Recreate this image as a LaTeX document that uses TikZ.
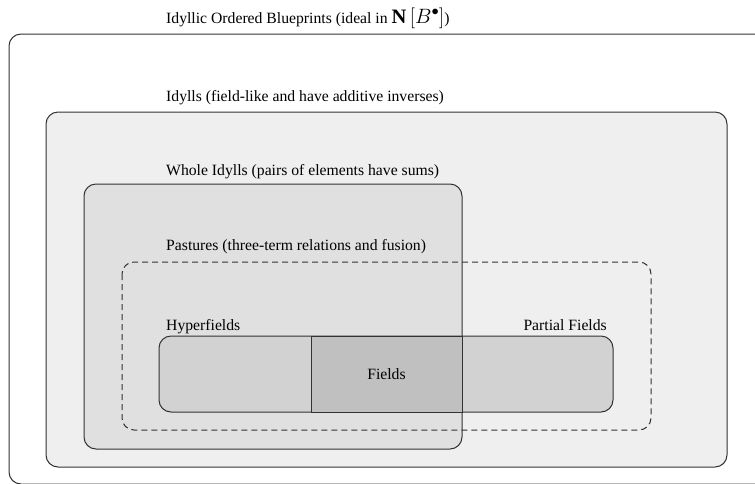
\documentclass[tikz,border=0pt]{standalone}
\usepackage{fontspec}
\setmainfont{Liberation Serif}
\usetikzlibrary{calc}
\definecolor{cidyll}{HTML}{EFEFEF}
\definecolor{cwhole}{HTML}{E0E0E0}
\definecolor{cbar}{HTML}{D2D2D2}
\definecolor{cfield}{HTML}{C0C0C0}
\definecolor{cline}{HTML}{333333}
\tikzset{
  box/.style={draw=cline, line width=1pt, rounded corners=12pt},
  lbl/.style={inner sep=0pt, font=\fontsize{15.7}{18}\selectfont},
}
\begin{document}
\begin{tikzpicture}[x=1pt,y=-1pt]
\useasboundingbox (0,0) rectangle (755,483);
\clip (0,0) rectangle (755,483);
% outer blueprint box (extends beyond picture)
\draw[box, fill=white] (9,34) rectangle (790,484);
\node[lbl, anchor=base west] (tblue) at (166,23) {Idyllic Ordered Blueprints (ideal in {\fontsize{20.5}{22}\selectfont$\mathbf{N}\,[B^\bullet]$})};
% idylls
\draw[box, fill=cidyll] (46,112) rectangle (727,467);
\node[lbl, anchor=base west] (tidyll) at (166,101) {Idylls (field-like and have additive inverses)};
% whole idylls
\draw[box, fill=cwhole] (84,184) rectangle (462,449);
\node[lbl, anchor=base west] (twhole) at (166,175) {Whole Idylls (pairs of elements have sums)};
% pastures
\draw[box, dashed, dash pattern=on 6pt off 4pt] (122,262) rectangle (651,430);
\node[lbl, anchor=base west] (tpast) at (166,250) {Pastures (three-term relations and fusion)};
% hyperfields / partial fields bar
\draw[box, fill=cbar] (159,336) rectangle (613,412);
\draw[draw=cline, line width=1pt, fill=cfield] (311,336) rectangle (462,412);
\node[lbl, anchor=base west] (thyper) at (166,330) {Hyperfields};
\node[lbl, anchor=base east] (tpartial) at (607,330) {Partial Fields};
\node[lbl] (tfields) at (386.5,374) {Fields};
\end{tikzpicture}
\end{document}
